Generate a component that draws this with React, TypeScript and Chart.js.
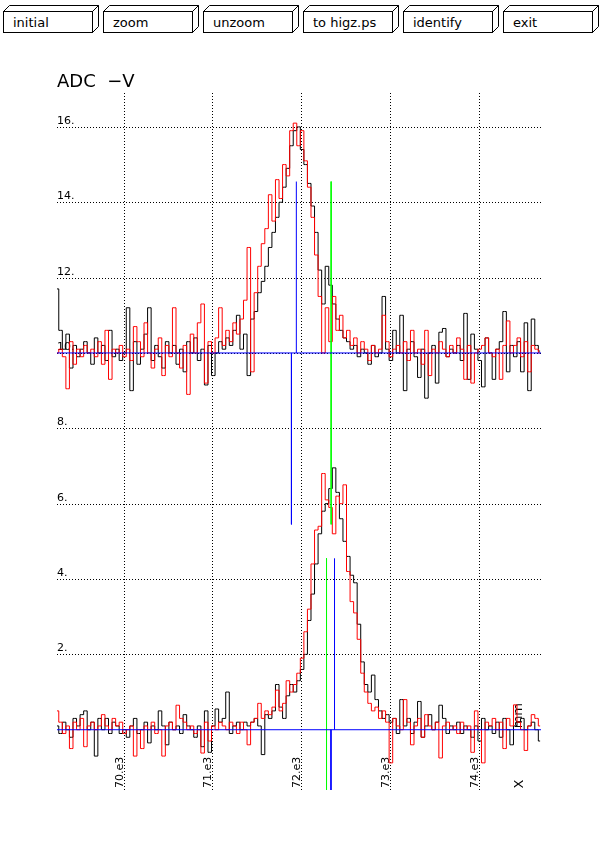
import React, { useEffect, useRef } from "react";
import { Chart, registerables } from "chart.js";

Chart.register(...registerables);

// histogram bins (channel position), one value per bin
const binStart = 69250;
const binWidth = 40;

// upper pair, drawn on a +10 pedestal
const upperBlack = [
  11.7, 10.6, 10.1, 10.5, 9.6, 10.2, 9.9, 10.1, 10.3, 10.0,
  9.7, 10.4, 10.0, 10.2, 9.8, 10.6, 9.9, 10.1, 9.8, 10.0,
  11.2, 9.0, 10.3, 9.7, 10.1, 10.5, 11.2, 9.8, 10.2, 9.9,
  9.6, 10.3, 10.0, 10.2, 9.7, 10.1, 9.5, 10.3, 10.0, 10.4,
  9.8, 10.1, 9.15, 10.2, 9.4, 10.0, 10.3, 10.1, 10.4, 10.2,
  10.6, 11.0, 10.1, 10.5, 9.4, 10.9, 11.1, 11.6, 11.9, 12.3,
  12.8, 13.2, 13.6, 14.0, 14.4, 14.9, 15.5, 15.9, 16.0, 15.4,
  15.0, 14.5, 13.9, 13.2, 12.2, 11.3, 12.3, 11.8, 11.3, 10.9,
  10.6, 10.4, 10.3, 10.1, 10.2, 9.9, 10.1, 10.0, 9.7, 10.2,
  9.9, 10.0, 11.5, 10.1, 9.8, 10.6, 10.0, 11.0, 9.0, 10.1,
  10.3, 9.9, 9.35, 10.1, 8.8, 10.0, 10.2, 9.2, 10.55, 10.65,
  9.9, 10.1, 10.0, 10.2, 9.8, 11.05, 9.3, 10.5, 10.1, 9.8,
  9.1, 10.4, 10.0, 9.3, 10.1, 10.3, 11.1, 9.5, 10.2, 9.9,
  10.3, 9.5, 10.8, 9.0, 10.9, 10.2, 10.05,
];
const upperRed = [
  10.0, 10.1, 9.9, 9.05, 10.3, 9.7, 10.1, 9.9, 10.2, 10.0,
  10.1, 9.9, 10.3, 9.7, 10.6, 9.3, 10.1, 10.0, 10.2, 9.9,
  10.1, 9.8, 10.7, 10.3, 9.9, 10.8, 10.0, 9.6, 10.1, 10.4,
  9.4, 10.2, 9.9, 11.2, 10.0, 9.6, 10.2, 8.9, 10.5, 10.0,
  10.8, 11.3, 9.2, 10.3, 10.0, 10.4, 11.2, 10.2, 10.6, 10.3,
  10.8, 10.5, 10.9, 11.4, 12.8, 9.5, 11.6, 12.3, 12.9, 13.3,
  14.2, 13.5, 14.6, 14.1, 15.0, 14.7, 15.9, 16.1, 15.5, 15.9,
  15.1, 14.4, 13.6, 12.6, 11.5, 10.0, 11.2, 10.3, 11.5, 10.6,
  11.0, 10.4, 10.6, 10.2, 10.4, 10.0, 10.3, 10.1, 9.8, 10.2,
  10.0, 10.1, 11.0, 10.3, 9.9, 10.1, 10.2, 10.0, 10.3, 9.8,
  10.6, 10.0, 10.1, 9.7, 10.6, 9.4, 10.1, 10.0, 10.3, 10.1,
  9.9, 10.2, 10.0, 10.4, 10.1, 9.3, 10.2, 9.2, 10.0, 10.1,
  10.2, 10.4, 10.0, 9.9, 10.1, 9.3, 10.2, 10.85, 10.0, 10.2,
  10.4, 9.9, 10.3, 9.5, 10.2, 10.1, 10.0,
];

// lower pair, no pedestal
const lowerBlack = [
  0.1, -0.1, 0.2, 0.0, -0.2, 0.3, 0.1, 0.4, 0.5, 0.0,
  0.2, -0.7, 0.3, 0.0, 0.3, -0.1, 0.2, 0.1, -0.1, 0.0,
  -0.2, 0.1, 0.3, -0.1, 0.0, 0.2, -0.35, 0.1, 0.0, 0.5,
  0.1, -0.4, 0.2, 0.0, 0.1, -0.1, 0.4, 0.1, 0.0, -0.2,
  0.1, -0.45, 0.5, -0.6, 0.1, 0.55, 0.2, 0.3, 1.0, -0.1,
  0.1, 0.2, 0.0, 0.2, 0.1, 0.2, 0.3, 0.1, -0.66, 0.4,
  0.3, 0.5, 1.2, 0.6, 0.3, 0.9, 1.2, 1.0, 1.3, 1.6,
  2.0, 2.9, 3.6, 4.4, 5.2, 5.8, 6.0, 6.4, 6.95, 6.3,
  5.6, 5.0, 4.6, 4.1, 3.9, 2.8, 1.8, 1.2, 1.0, 1.45,
  0.8, 0.5, 0.3, 0.4, 0.2, 0.3, -0.1, 0.8, 0.1, 0.3,
  -0.1, 0.2, 0.75, -0.2, 0.1, 0.4, 0.0, 0.2, 0.65, 0.3,
  -0.1, 0.1, 0.0, 0.2, -0.1, 0.1, 0.0, -0.2, 0.1, -0.3,
  0.3, 0.0, 0.1, -0.1, 0.2, -0.2, 0.3, 0.0, -0.4, 0.1,
  0.2, 0.3, 0.0, 0.1, 0.2, 0.0, -0.3,
];
const lowerRed = [
  0.5, 0.2, -0.1, 0.1, -0.5, 0.2, 0.0, 0.3, -0.45, 0.1,
  0.2, 0.0, 0.1, 0.4, 0.1, 0.0, 0.3, 0.1, 0.2, -0.1,
  0.0, 0.1, -0.7, 0.0, -0.5, 0.1, 0.0, 0.2, -0.1, 0.0,
  -0.7, 0.1, 0.2, 0.0, 0.65, 0.3, 0.2, 0.0, 0.1, -0.1,
  0.0, -0.62, 0.2, -0.3, 0.1, 0.0, 0.2, 0.1, 0.0, 0.2,
  0.1, -0.1, 0.2, 0.0, -0.4, 0.2, 0.3, 0.7, 0.3, 0.5,
  0.4, 0.6, 1.05, 0.5, 0.7, 1.3, 1.0, 1.2, 1.5, 1.9,
  2.6, 3.2, 4.4, 5.3, 5.4, 6.8, 6.1, 5.9, 5.2, 6.2,
  6.0, 6.5, 4.2, 3.4, 3.1, 2.4, 1.5, 1.0, 0.7, 0.5,
  0.6, 0.3, 0.5, 0.2, -0.88, 0.3, 0.1, 0.0, 0.8, 0.2,
  -0.4, 0.1, 0.3, -0.2, 0.4, 0.1, 0.0, 0.2, -0.75, 0.1,
  0.2, 0.0, 0.1, -0.1, 0.2, 0.0, 0.1, -0.6, 0.5, 0.0,
  -0.88, 0.2, 0.1, 0.3, 0.0, 0.2, -0.5, 0.3, 0.1, 0.66,
  0.2, 0.0, -0.55, 0.1, 0.4, 0.3, 0.1,
];

// pedestals and markers: [x, yFrom, yTo]
const pedestals = [10, 0];
const blueMarks = [
  [71945, 10, 14.55],
  [71890, 10, 5.45],
  [72375, 0, 4.55],
  [72335, 0, -1.6],
];
const greenMarks = [
  [72337, 14.55, 5.45],
  [72285, 4.55, -1.6],
];

const xTicks = [70000, 71000, 72000, 73000, 74000];
const xTickLabels = ["70.e3", "71.e3", "72.e3", "73.e3", "74.e3"];
const yTicks = [2, 4, 6, 8, 10, 12, 14, 16];
const yTickLabels = ["2.", "4.", "6.", "8.", "10.", "12.", "14.", "16."];

const buttons = ["initial", "zoom", "unzoom", "to higz.ps", "identify", "exit"];

const X_MIN = 69250;
const X_MAX = 74700;
const Y_MIN = -1.6;
const Y_MAX = 16.9;

const toPoints = (vals: number[]) =>
  vals.map((v, i) => ({ x: binStart + i * binWidth, y: v }));

const segment = (color: string, pts: { x: number; y: number }[]) => ({
  data: pts,
  borderColor: color,
  borderWidth: 1,
  pointRadius: 0,
  fill: false,
});

const decor = {
  id: "higzDecor",
  beforeDatasetsDraw(chart: any) {
    const { ctx, chartArea, scales } = chart;
    ctx.save();
    ctx.strokeStyle = "#000";
    ctx.lineWidth = 1;
    ctx.setLineDash([1, 2]);
    xTicks.forEach((v) => {
      const px = Math.round(scales.x.getPixelForValue(v)) + 0.5;
      ctx.beginPath();
      ctx.moveTo(px, chartArea.top);
      ctx.lineTo(px, chartArea.bottom);
      ctx.stroke();
    });
    yTicks.forEach((v) => {
      const py = Math.round(scales.y.getPixelForValue(v)) + 0.5;
      ctx.beginPath();
      ctx.moveTo(chartArea.left, py);
      ctx.lineTo(chartArea.right, py);
      ctx.stroke();
    });
    ctx.setLineDash([]);

    ctx.fillStyle = "#000";
    ctx.font = "11px 'DejaVu Sans'";
    ctx.textAlign = "left";
    ctx.textBaseline = "alphabetic";
    yTicks.forEach((v, i) => {
      const py = scales.y.getPixelForValue(v);
      ctx.fillText(yTickLabels[i], chartArea.left, py - 3);
    });

    const labelTop = scales.y.getPixelForValue(0) + 27;
    xTicks.forEach((v, i) => {
      const px = Math.round(scales.x.getPixelForValue(v));
      ctx.save();
      ctx.translate(px - 1, labelTop);
      ctx.rotate(-Math.PI / 2);
      ctx.textAlign = "right";
      ctx.fillText(xTickLabels[i], 0, 0);
      ctx.restore();
    });

    ctx.font = "13px 'DejaVu Sans'";
    ctx.save();
    ctx.translate(523, labelTop + 23);
    ctx.rotate(-Math.PI / 2);
    ctx.textAlign = "right";
    ctx.fillText("X", 0, 0);
    ctx.restore();
    ctx.save();
    ctx.translate(522, 703);
    ctx.rotate(-Math.PI / 2);
    ctx.textAlign = "right";
    ctx.fillText("mm", 0, 0);
    ctx.restore();

    ctx.font = "18px 'DejaVu Sans'";
    ctx.textAlign = "left";
    ctx.fillText("ADC  \u2212V", chartArea.left, 87);
    ctx.restore();
  },
};

const App: React.FC = () => {
  const canvasRef = useRef<HTMLCanvasElement>(null);

  useEffect(() => {
    if (!canvasRef.current) return;
    const ctx = canvasRef.current.getContext("2d");
    if (!ctx) return;

    const markSets = [
      ...pedestals.map((p) =>
        segment("#0000ff", [
          { x: X_MIN, y: p },
          { x: X_MAX, y: p },
        ])
      ),
      ...blueMarks.map(([x, a, b]) =>
        segment("#0000ff", [
          { x, y: a },
          { x, y: b },
        ])
      ),
      ...greenMarks.map(([x, a, b]) =>
        segment("#00ff00", [
          { x, y: a },
          { x, y: b },
        ])
      ),
    ];

    const trace = (vals: number[], color: string) => ({
      data: toPoints(vals),
      borderColor: color,
      borderWidth: 1,
      pointRadius: 0,
      stepped: "middle" as const,
      fill: false,
    });

    const myChart = new Chart(ctx, {
      type: "line",
      data: {
        datasets: [
          ...markSets,
          trace(upperRed, "#ff0000"),
          trace(lowerRed, "#ff0000"),
          trace(upperBlack, "#000000"),
          trace(lowerBlack, "#000000"),
        ] as any,
      },
      options: {
        responsive: false,
        animation: false,
        devicePixelRatio: 1,
        layout: { padding: { left: 57, right: 59, top: 93, bottom: 59 } },
        plugins: {
          legend: { display: false },
          tooltip: { enabled: false },
        },
        scales: {
          x: { type: "linear", display: false, min: X_MIN, max: X_MAX },
          y: { type: "linear", display: false, min: Y_MIN, max: Y_MAX },
        },
      },
      plugins: [decor],
    });

    return () => {
      myChart.destroy();
    };
  }, []);

  return (
    <div
      style={{
        position: "fixed",
        left: 0,
        top: 0,
        width: 600,
        height: 849,
        background: "#fff",
      }}
    >
      <svg
        width={600}
        height={40}
        style={{ position: "absolute", left: 0, top: 0 }}
      >
        {buttons.map((b, i) => {
          const x = 3 + i * 100;
          return (
            <g key={b} fill="#fff" stroke="#000" strokeWidth={1}>
              <polygon
                points={`${x + 0.5},11.5 ${x + 6.5},5.5 ${x + 95.5},5.5 ${x + 89.5},11.5`}
              />
              <polygon
                points={`${x + 89.5},11.5 ${x + 95.5},5.5 ${x + 95.5},26.5 ${x + 89.5},32.5`}
              />
              <rect x={x + 0.5} y={11.5} width={89} height={21} />
              <text
                x={x + 10}
                y={27}
                fill="#000"
                stroke="none"
                fontFamily="DejaVu Sans"
                fontSize={13}
              >
                {b}
              </text>
            </g>
          );
        })}
      </svg>
      <canvas
        ref={canvasRef}
        width={600}
        height={849}
        style={{ position: "absolute", left: 0, top: 0 }}
      />
    </div>
  );
};

export default App;
